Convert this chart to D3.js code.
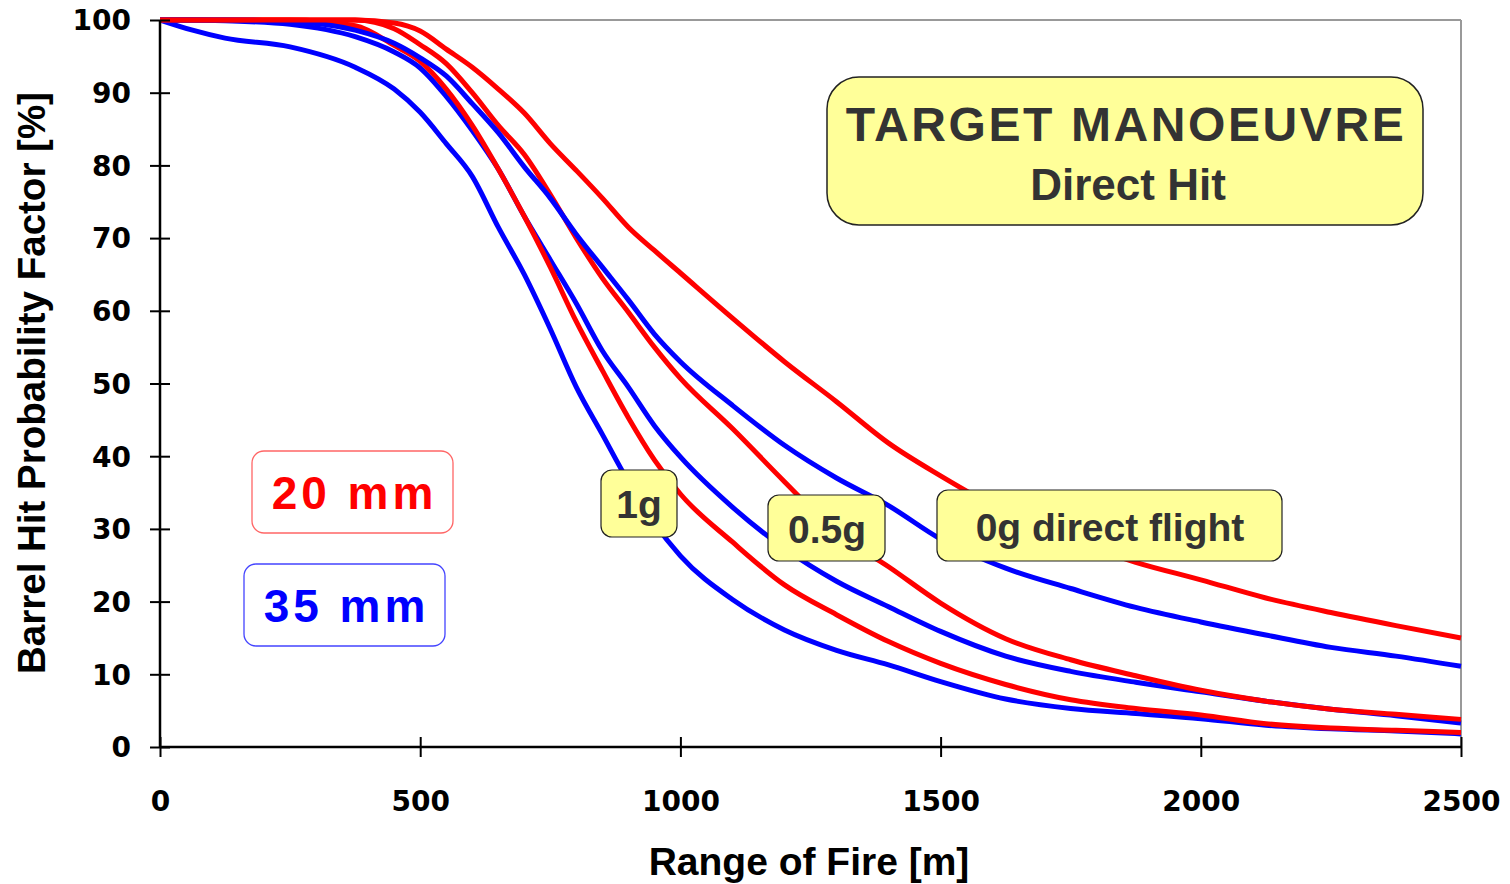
<!DOCTYPE html>
<html>
<head>
<meta charset="utf-8">
<script src="https://cdn.jsdelivr.net/npm/d3@7"></script>
<style>
  html, body { margin: 0; padding: 0; background: #fff; }
  svg { display: block; font-family: "Liberation Sans", Arial, sans-serif; }
</style>
</head>
<body>
<svg id="chart" width="1510" height="884"></svg>
<script>
// ---- data ----
const ranges = [0, 62.5, 125, 250, 375, 450, 500, 550, 600, 650, 700, 750, 800, 850, 900, 950, 1000, 1100, 1200, 1300, 1400, 1500, 1625, 1750, 1875, 2000, 2125, 2250, 2375, 2500];

const red0g  = [100,100,100,100,100,99.6,98.5,96.0,93.5,90.5,87.2,83.0,79.3,75.5,71.5,68.3,65.2,59.0,53.0,47.5,41.8,37.3,32.3,28.5,25.4,23.0,20.5,18.5,16.7,15.0];
const red05g = [100,100,100,100,100,98.8,96.6,94.0,90.0,85.5,81.5,76.0,70.0,64.5,59.8,55.0,50.7,43.8,36.5,29.5,24.8,19.8,14.9,12.0,9.8,7.8,6.3,5.2,4.5,3.8];
const red1g  = [100,100,100,100,99.2,96.5,94.3,90.5,85.5,79.5,73.0,66.0,58.5,51.8,45.3,39.5,34.8,28.2,22.3,18.2,14.5,11.5,8.6,6.5,5.3,4.4,3.2,2.6,2.3,2.0];
const blue0g  = [100,100,100,99.8,98.6,96.8,94.8,92.3,88.5,84.5,79.8,75.5,70.5,66.0,61.5,56.8,53.0,47.0,41.5,37.0,33.2,28.6,24.6,21.8,19.2,17.2,15.4,13.7,12.5,11.1];
const blue05g = [100,100,99.9,99.4,97.7,95.6,93.4,89.5,84.8,79.5,73.0,67.0,61.0,54.5,49.5,44.2,39.9,33.0,27.3,22.8,19.3,15.9,12.5,10.4,8.9,7.6,6.3,5.2,4.3,3.3];
const blue1g  = [100,98.6,97.5,96.3,93.5,90.5,87.3,83.0,78.5,71.5,65.0,57.5,49.5,43.0,36.5,30.8,26.3,20.3,16.1,13.3,11.3,9.0,6.6,5.3,4.6,3.9,3.0,2.5,2.2,1.8];

const xTicks = [0, 500, 1000, 1500, 2000, 2500];
const yTicks = [0, 10, 20, 30, 40, 50, 60, 70, 80, 90, 100];

const seriesList = [
  { name: "35mm 1g",   values: blue1g,  color: "#0000FF" },
  { name: "35mm 0.5g", values: blue05g, color: "#0000FF" },
  { name: "20mm 1g",   values: red1g,   color: "#FF0000" },
  { name: "20mm 0.5g", values: red05g,  color: "#FF0000" },
  { name: "35mm 0g",   values: blue0g,  color: "#0000FF" },
  { name: "20mm 0g",   values: red0g,   color: "#FF0000" }
];

// ---- layout ----
const svg = d3.select("#chart");
const pLeft = 160, pRight = 1461, pTop = 20, pBottom = 747;

const x = d3.scaleLinear().domain([0, 2500]).range([pLeft, pRight]);
const y = d3.scaleLinear().domain([0, 100]).range([pBottom, pTop]);

// plot frame (top & right light grey)
svg.append("line").attr("x1", pLeft).attr("x2", pRight).attr("y1", pTop).attr("y2", pTop)
  .attr("stroke", "#999").attr("stroke-width", 2);
svg.append("line").attr("x1", pRight).attr("x2", pRight).attr("y1", pTop).attr("y2", pBottom)
  .attr("stroke", "#999").attr("stroke-width", 2);

// curves
const line = d3.line()
  .x((d, i) => x(ranges[i]))
  .y(d => y(d))
  .curve(d3.curveMonotoneX);

const gLines = svg.append("g");
seriesList.forEach(s => {
  gLines.append("path")
    .datum(s.values)
    .attr("d", line)
    .attr("fill", "none")
    .attr("stroke", s.color)
    .attr("stroke-width", 5)
    .attr("stroke-linejoin", "round");
});

// axes
const xAxis = d3.axisBottom(x).tickValues(xTicks).tickSize(10).tickFormat(d3.format("d"));
const yAxis = d3.axisLeft(y).tickValues(yTicks).tickSize(10).tickFormat(d3.format("d"));

const gx = svg.append("g").attr("transform", `translate(0,${pBottom})`).call(xAxis);
const gy = svg.append("g").attr("transform", `translate(${pLeft},0)`).call(yAxis);

[gx, gy].forEach(g => {
  g.select(".domain").attr("stroke", "#000").attr("stroke-width", 2.5);
  g.selectAll(".tick line").attr("stroke", "#000").attr("stroke-width", 2);
  g.selectAll(".tick text")
    .attr("fill", "#000")
    .style("font-family", "'DejaVu Sans', Verdana, sans-serif")
    .style("font-weight", "bold")
    .style("font-size", "28px");
});
// crossing ticks
gx.selectAll(".tick line").attr("y1", -10).attr("y2", 10);
gy.selectAll(".tick line").attr("x1", 10).attr("x2", -10);
gx.select(".domain").attr("d", `M${pLeft},0H${pRight}`);
gy.select(".domain").attr("d", `M0,${pBottom}V${pTop}`);
gx.selectAll(".tick text").attr("dy", "0.35em").attr("y", 54);
gy.selectAll(".tick text").attr("x", -29).attr("dy", "0.35em");

// axis titles
svg.append("text")
  .attr("x", 809).attr("y", 875)
  .attr("text-anchor", "middle")
  .style("font-weight", "bold").style("font-size", "39px")
  .text("Range of Fire [m]");

svg.append("text")
  .attr("transform", `translate(45,383) rotate(-90)`)
  .attr("text-anchor", "middle")
  .style("font-weight", "bold").style("font-size", "38.5px")
  .text("Barrel Hit Probability Factor [%]");

// title box
const tb = svg.append("g");
tb.append("rect").attr("x", 827).attr("y", 77).attr("width", 596).attr("height", 148)
  .attr("rx", 32).attr("ry", 32)
  .attr("fill", "#FFFF99").attr("stroke", "#222").attr("stroke-width", 1.5);
tb.append("text").attr("x", 1126).attr("y", 141).attr("text-anchor", "middle")
  .attr("fill", "#333").style("font-weight", "bold").style("font-size", "48px")
  .style("letter-spacing", "2.6px")
  .text("TARGET MANOEUVRE");
tb.append("text").attr("x", 1128).attr("y", 200).attr("text-anchor", "middle")
  .attr("fill", "#333").style("font-weight", "bold").style("font-size", "44px")
  .text("Direct Hit");

// curve labels
const labels = [
  { text: "1g", x: 601, y: 470, w: 76, h: 67, tx: 639, ty: 518 },
  { text: "0.5g", x: 768, y: 495, w: 117, h: 66, tx: 827, ty: 543 },
  { text: "0g direct flight", x: 937, y: 490, w: 345, h: 71, tx: 1110, ty: 541 }
];
labels.forEach(l => {
  svg.append("rect").attr("x", l.x).attr("y", l.y).attr("width", l.w).attr("height", l.h)
    .attr("rx", 11).attr("ry", 11)
    .attr("fill", "#FFFF99").attr("stroke", "#222").attr("stroke-width", 1.2);
  svg.append("text").attr("x", l.tx).attr("y", l.ty).attr("text-anchor", "middle")
    .attr("fill", "#333").style("font-weight", "bold").style("font-size", "39px")
    .text(l.text);
});

// legend boxes
const legend = [
  { text: "20 mm", color: "#FF0000", stroke: "#FF6666", x: 252, y: 451, w: 201, h: 82 },
  { text: "35 mm", color: "#0000FF", stroke: "#4444FF", x: 244, y: 564, w: 201, h: 82 }
];
legend.forEach(l => {
  svg.append("rect").attr("x", l.x).attr("y", l.y).attr("width", l.w).attr("height", l.h)
    .attr("rx", 12).attr("ry", 12)
    .attr("fill", "#fff").attr("stroke", l.stroke).attr("stroke-width", 1.3);
  svg.append("text").attr("x", l.x + l.w / 2 + 2).attr("y", l.y + 58).attr("text-anchor", "middle")
    .attr("fill", l.color).style("font-weight", "bold").style("font-size", "46px")
    .style("letter-spacing", "4px")
    .text(l.text);
});
</script>
</body>
</html>
